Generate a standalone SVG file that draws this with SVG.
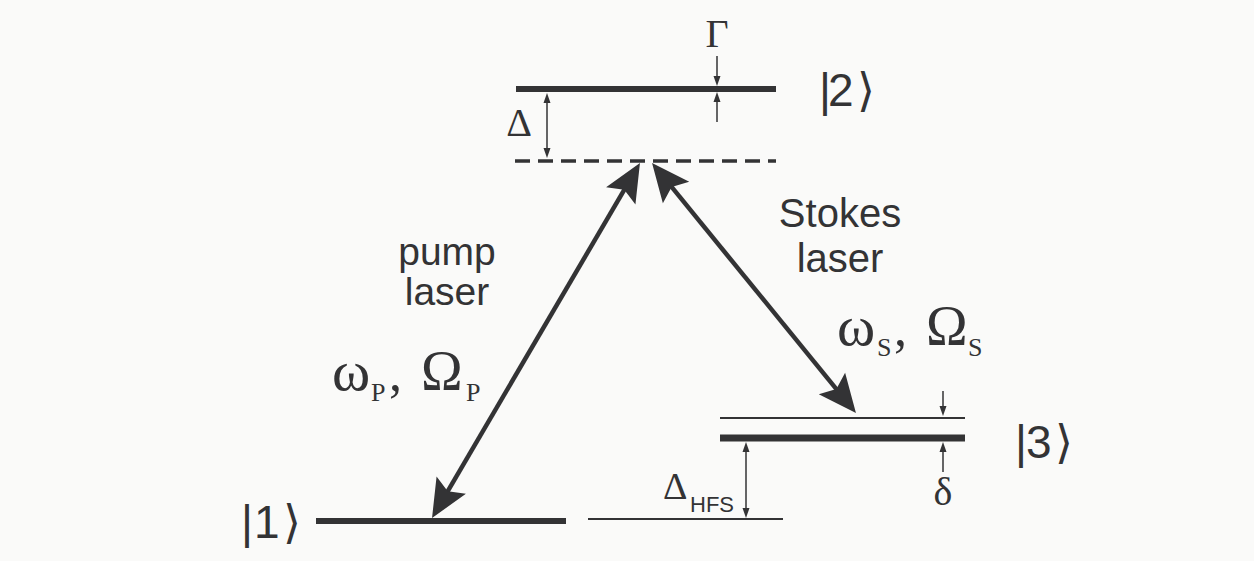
<svg xmlns="http://www.w3.org/2000/svg" width="1254" height="561" viewBox="0 0 1254 561">
  <defs>
    <style>
      .lvl { stroke: #333335; stroke-width: 6; fill: none; }
      .thin { stroke: #333335; stroke-width: 2; fill: none; }
      .dash { stroke: #333335; stroke-width: 3.5; stroke-dasharray: 15 8; fill: none; }
      .big { stroke: #333335; stroke-width: 4.5; fill: none; marker-start: url(#bigHead); marker-end: url(#bigHead); }
      .small { stroke: #333335; stroke-width: 1.5; fill: none; }
      .sans { font-family: "Liberation Sans", Arial, sans-serif; fill: #333335; }
      .ket { font-family: "Liberation Sans", "DejaVu Sans", sans-serif; fill: #333335; font-size: 46px; }
      .serif { font-family: "Liberation Serif", "Times New Roman", serif; fill: #333335; }
    </style>
    <marker id="bigHead" markerUnits="userSpaceOnUse" orient="auto-start-reverse" viewBox="-12 -20 46 40" refX="0" refY="0" markerWidth="46" markerHeight="40">
      <path d="M30,0 L-8,-17 L-1,0 L-8,17 Z" fill="#333335"/>
    </marker>
    <marker id="smallHead" markerUnits="userSpaceOnUse" orient="auto-start-reverse" viewBox="-10 -6 16 12" refX="0" refY="0" markerWidth="16" markerHeight="12">
      <path d="M3,0 L-7,-3.5 L-7,3.5 Z" fill="#333335"/>
    </marker>
  </defs>

  <rect x="0" y="0" width="1254" height="561" fill="#fafaf9"/>

  <g id="level2">
    <line class="lvl" x1="516" y1="89" x2="776" y2="89"/>
    <text class="ket" x="819 828 857" y="106">|2⟩</text>
  </g>

  <g id="virtual-level">
    <line class="dash" x1="515" y1="161" x2="776" y2="161"/>
  </g>

  <g id="level3">
    <line class="thin" x1="720" y1="418" x2="965" y2="418"/>
    <line class="lvl" x1="720" y1="438" x2="965" y2="438" style="stroke-width:7"/>
    <text class="ket" x="1015 1026 1055" y="458">|3⟩</text>
  </g>

  <g id="level1">
    <line class="lvl" x1="316" y1="521" x2="566" y2="521"/>
    <line class="thin" x1="588" y1="519" x2="783" y2="519"/>
    <text class="ket" x="241 254 283" y="538">|1⟩</text>
  </g>

  <g id="connectors">
    <line class="big" x1="447.2" y1="492.1" x2="624.8" y2="188.9"/>
    <line class="big" x1="671" y1="186.2" x2="837" y2="389.8"/>
    <line class="small" x1="547" y1="96" x2="547" y2="155" marker-start="url(#smallHead)" marker-end="url(#smallHead)"/>
    <line class="small" x1="717" y1="56" x2="717" y2="83" marker-end="url(#smallHead)"/>
    <line class="small" x1="717" y1="122" x2="717" y2="95" marker-end="url(#smallHead)"/>
    <line class="small" x1="746" y1="445" x2="746" y2="515" marker-start="url(#smallHead)" marker-end="url(#smallHead)"/>
    <line class="small" x1="943" y1="391" x2="943" y2="413" marker-end="url(#smallHead)"/>
    <line class="small" x1="943" y1="472" x2="943" y2="445" marker-end="url(#smallHead)"/>
  </g>

  <g id="labels">
    <text class="serif" x="717" y="47" font-size="40" text-anchor="middle">Γ</text>
    <text class="serif" x="519" y="136" font-size="40" text-anchor="middle">Δ</text>
    <text class="serif" x="943" y="505" font-size="40" text-anchor="middle">δ</text>
    <text class="serif" x="663" y="499" font-size="38">Δ</text>
    <text class="sans" x="690" y="512" font-size="22">HFS</text>

    <text class="sans" x="447" y="265" font-size="39" text-anchor="middle">pump</text>
    <text class="sans" x="447" y="305" font-size="39" text-anchor="middle">laser</text>
    <text class="sans" x="840" y="227" font-size="40" text-anchor="middle">Stokes</text>
    <text class="sans" x="840" y="272" font-size="40" text-anchor="middle">laser</text>

    <text class="serif" x="332" y="390" font-size="58">ω</text>
    <text class="serif" x="371" y="401" font-size="26">P</text>
    <text class="serif" x="389" y="390" font-size="52">,</text>
    <text class="serif" x="421" y="390" font-size="56">Ω</text>
    <text class="serif" x="466" y="401" font-size="26">P</text>

    <text class="serif" x="837" y="345" font-size="58">ω</text>
    <text class="serif" x="877" y="356" font-size="26">S</text>
    <text class="serif" x="894" y="345" font-size="52">,</text>
    <text class="serif" x="926" y="345" font-size="56">Ω</text>
    <text class="serif" x="968" y="356" font-size="26">S</text>
  </g>
</svg>
